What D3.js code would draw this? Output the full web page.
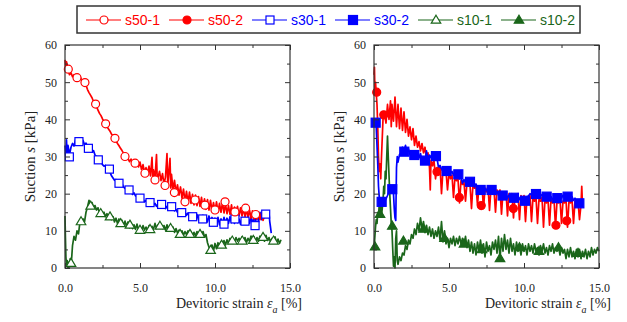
<!DOCTYPE html>
<html><head><meta charset="utf-8">
<script src="https://cdn.jsdelivr.net/npm/d3@7"></script>
<style>body{margin:0;background:#fff}svg{display:block}</style>
</head><body>
<svg id="c" width="627" height="322"></svg>
<script>
// ---------- data ----------
const legendNames = ["s50-1","s50-2","s30-1","s30-2","s10-1","s10-2"];
const yTicks = [0,10,20,30,40,50,60];
const yMinor = [5,15,25,35,45,55];
const xTicks = [0,5,10,15];
const xMinor = [2.5,7.5,12.5];

const s50_1_line = [[0,56],[0.05,54],[0.1,55.5],[0.2,53.5],[0.3,52],[0.4,52.5],[0.5,51.5],[0.6,52],[0.7,51],[0.8,51.8],[0.9,51.2],[1.0,51.5],[1.1,50.6],[1.2,50.3],[1.3,49.8],[1.4,49.2],[1.5,48],[1.6,47.2],[1.7,46.5],[1.8,45.8],[1.9,44.8],[2.0,44.2],[2.1,43.4],[2.2,42.5],[2.3,41.6],[2.4,41],[2.5,40.1],[2.6,39.4],[2.7,38.8],[2.8,38],[2.9,37.4],[3.0,36.8],[3.1,36],[3.2,35.6],[3.3,35],[3.4,34.2],[3.5,33.5],[3.6,32.9],[3.7,32.2],[3.8,31.6],[3.9,30.9],[4.0,30.3],[4.1,29.8],[4.2,29.4],[4.3,28.6],[4.4,29.3],[4.5,28.4],[4.6,28.8],[4.7,27.9],[4.8,28.9],[4.9,27.2],[5.0,28.5],[5.1,26.5],[5.2,27.8],[5.3,25.8],[5.4,27],[5.5,25.5],[5.6,27.4],[5.7,24.8],[5.8,29.8],[5.85,24.5],[5.9,26.4],[6.0,24],[6.1,30.5],[6.15,23.6],[6.3,26],[6.4,23.5],[6.5,25.4],[6.6,22.5],[6.7,24.5],[6.8,30.8],[6.85,22.2],[7.0,29.5],[7.05,21.5],[7.1,25.2],[7.2,21],[7.3,23.6],[7.4,20.2],[7.5,22.4],[7.6,19.6],[7.7,21.8],[7.8,18.8],[7.9,21.2],[8.0,18],[8.1,20.6],[8.2,17.6],[8.3,20.4],[8.4,17.4],[8.5,19.8],[8.6,17],[8.7,19.6],[8.8,16.8],[8.9,19.2],[9.0,16.6],[9.1,19],[9.2,16.2],[9.3,18.6],[9.4,15.8],[9.5,18.4],[9.6,15.6],[9.7,18.2],[9.8,15.4],[9.9,17.6],[10.0,15.2],[10.1,17.8],[10.2,15],[10.3,17.4],[10.4,15],[10.5,17.6],[10.6,14.8],[10.7,17.2],[10.8,14.6],[10.9,16.8],[11.0,14.4],[11.1,17],[11.2,14.2],[11.3,16.4],[11.4,14.2],[11.5,16.6],[11.6,14],[11.7,16.2],[11.8,14],[11.9,16],[12.0,13.8],[12.1,15.8],[12.2,13.6],[12.3,15.6],[12.4,13.4],[12.5,15.4],[12.6,13.2],[12.7,15],[12.8,13.2],[12.9,14.6],[13.0,13],[13.1,14.8],[13.2,12.8],[13.3,14]];
const s50_1_marks = [[0.22,53.5],[0.8,51.2],[1.33,49.9],[2.04,44.1],[2.71,38.8],[3.33,34.9],[4.0,30.0],[4.67,28.2],[5.33,25.5],[6.0,23.7],[6.67,22.2],[7.29,20.3],[8.0,17.8],[8.67,18.3],[9.33,16.9],[10.0,15.6],[10.67,17.8],[11.33,15.1],[12.04,16.1],[12.71,14.4]];

const s30_1_line = [[0,33],[0.05,30],[0.1,34.5],[0.15,29.5],[0.2,33],[0.3,30.5],[0.4,32.5],[0.5,33.5],[0.6,32.8],[0.7,34.5],[0.8,34],[0.9,34.8],[1.0,34.2],[1.1,33.8],[1.2,34.3],[1.3,33.2],[1.4,33.6],[1.5,32.4],[1.6,32.9],[1.7,31.8],[1.8,31.2],[1.9,31.6],[2.0,30.4],[2.1,30],[2.2,29.2],[2.3,29.6],[2.4,28.8],[2.5,27.8],[2.6,27.4],[2.7,27.6],[2.8,26.8],[2.9,26.4],[3.0,25.8],[3.1,24.8],[3.2,24.2],[3.3,23.6],[3.4,23.8],[3.5,23.2],[3.6,22.6],[3.7,22.4],[3.8,22.8],[3.9,21.8],[4.0,21.4],[4.1,21.6],[4.2,20.8],[4.3,20.4],[4.4,20.6],[4.5,19.8],[4.6,20.2],[4.7,19.4],[4.8,19.6],[4.9,19],[5.0,18.8],[5.1,18.4],[5.2,18.6],[5.3,17.8],[5.4,18.2],[5.5,17.4],[5.6,17.8],[5.7,17.2],[5.8,17.6],[5.9,16.9],[6.0,17.4],[6.1,16.6],[6.2,17.2],[6.3,16.5],[6.4,17],[6.5,16.2],[6.6,16.8],[6.7,16],[6.8,16.6],[6.9,15.8],[7.0,16.4],[7.1,15.6],[7.2,16],[7.3,15.4],[7.4,15.8],[7.5,15],[7.6,15.6],[7.7,14.8],[7.8,15.2],[7.9,14.6],[8.0,15],[8.1,14.2],[8.2,14.8],[8.3,13.8],[8.4,14.6],[8.5,13.6],[8.6,14.4],[8.7,13.2],[8.8,14.4],[8.9,13],[9.0,14],[9.1,12.8],[9.2,14.2],[9.3,12.6],[9.4,13.8],[9.5,12.4],[9.6,14],[9.7,12.2],[9.8,13.6],[9.9,12],[10.0,13.4],[10.1,11.8],[10.2,13.6],[10.3,11.6],[10.4,13.2],[10.5,11.8],[10.6,13.6],[10.7,12],[10.8,13.4],[10.9,12],[11.0,13.8],[11.1,12.2],[11.2,13.4],[11.3,12],[11.4,13.6],[11.5,12.2],[11.6,13.2],[11.7,11.8],[11.8,13.4],[11.9,12],[12.0,13.2],[12.1,11.8],[12.2,13.6],[12.3,12],[12.4,13.8],[12.5,11.6],[12.6,14],[12.7,12.2],[12.8,14.6],[12.9,12.4],[13.0,15],[13.1,13],[13.2,15.4],[13.3,13.6],[13.4,15],[13.5,13.8],[13.6,14.8],[13.65,12.5],[13.7,11],[13.75,9.4]];
const s30_1_marks = [[0.29,29.9],[0.93,34.0],[1.56,32.2],[2.22,29.1],[2.96,26.6],[3.6,22.8],[4.27,21.0],[5.0,18.8],[5.67,17.6],[6.44,17.1],[7.11,16.5],[7.78,14.9],[8.51,13.8],[9.18,13.2],[9.89,12.3],[10.6,11.8],[11.33,13.2],[12.0,12.6],[12.67,11.4],[13.38,14.5]];

const s10_1_line = [[0,14],[0.03,8],[0.06,3],[0.1,0.5],[0.15,2],[0.2,0],[0.25,1.5],[0.3,0.3],[0.35,2.5],[0.4,1],[0.45,3],[0.5,6],[0.6,8.5],[0.7,7.5],[0.8,10],[0.9,9.2],[1.0,12.5],[1.1,11.8],[1.2,13.2],[1.3,12.4],[1.4,15],[1.5,16.4],[1.6,18.2],[1.7,16.8],[1.8,17.6],[1.9,16.2],[2.0,16.8],[2.1,15.6],[2.2,16.2],[2.3,14.8],[2.4,15.6],[2.5,14.2],[2.6,15],[2.7,13.8],[2.8,14.6],[2.9,13.4],[3.0,14.2],[3.1,13],[3.2,13.8],[3.3,12.4],[3.4,13.4],[3.5,12],[3.6,13.2],[3.7,11.6],[3.8,12.8],[3.9,11.4],[4.0,12.6],[4.1,11.2],[4.2,12.4],[4.3,10.8],[4.4,12],[4.5,10.6],[4.6,11.6],[4.7,10.4],[4.8,11.8],[4.9,10.2],[5.0,11.2],[5.1,10],[5.2,11.4],[5.3,10.2],[5.4,11],[5.5,10],[5.6,11.4],[5.7,10.4],[5.8,11.2],[5.9,10.4],[6.0,12],[6.1,10.6],[6.2,11.6],[6.3,10.8],[6.4,11.8],[6.5,10.6],[6.6,11.4],[6.7,10.2],[6.8,11.6],[6.9,10.4],[7.0,11.2],[7.1,10],[7.2,11],[7.3,9.6],[7.4,10.6],[7.5,9.4],[7.6,10.2],[7.7,9],[7.8,10],[7.9,8.8],[8.0,9.8],[8.1,9],[8.2,10],[8.3,8.8],[8.4,9.8],[8.5,8.6],[8.6,9.6],[8.7,8.6],[8.8,9.8],[8.9,8.8],[9.0,9.6],[9.1,8.6],[9.2,9.8],[9.3,8.4],[9.4,9],[9.5,6.8],[9.6,5.6],[9.7,4.8],[9.8,6.2],[9.9,4.6],[10.0,6.6],[10.1,5.2],[10.2,6.8],[10.3,5.8],[10.4,7],[10.5,6],[10.6,7.4],[10.7,6.2],[10.8,7.6],[10.9,6.6],[11.0,8],[11.1,6.8],[11.2,7.8],[11.3,7],[11.4,8.2],[11.5,7.2],[11.6,8],[11.7,7.2],[11.8,8.4],[11.9,7],[12.0,8.2],[12.1,6.8],[12.2,8],[12.3,7.2],[12.4,8.6],[12.5,7.4],[12.6,8.4],[12.7,7],[12.8,8.2],[12.9,7.2],[13.0,8.6],[13.1,7.6],[13.2,8.4],[13.3,7.2],[13.4,8.8],[13.5,7.4],[13.6,8.2],[13.7,7],[13.8,8],[13.9,7.2],[14.0,8.4],[14.1,6.8],[14.2,7.8],[14.3,6.6],[14.4,7.6]];
const s10_1_marks = [[0.4,1.3],[1.07,12.5],[1.71,16.7],[2.38,14.7],[3.0,13.8],[3.71,12.0],[4.33,11.6],[5.0,10.2],[5.67,10.4],[6.33,11.3],[7.04,10.7],[7.67,9.1],[8.33,9.1],[9.0,9.1],[9.71,4.8],[10.44,6.2],[11.15,7.3],[11.82,7.3],[12.55,7.5],[13.2,8.3],[13.9,7.3]];

const s50_2_line = [[0,52],[0.03,54],[0.06,48],[0.1,50],[0.15,47],[0.2,44],[0.25,38],[0.3,30],[0.35,26],[0.4,28],[0.45,24],[0.5,30],[0.55,35],[0.6,40],[0.7,41.5],[0.8,39],[0.9,44],[1.0,40],[1.1,45],[1.15,38],[1.2,44],[1.3,39.5],[1.4,46],[1.5,38],[1.6,44],[1.7,37.5],[1.8,43],[1.9,37],[2.0,42],[2.1,36.5],[2.2,40],[2.3,35.5],[2.4,38],[2.5,34.5],[2.6,37.5],[2.7,33],[2.8,35.5],[2.9,32.5],[3.0,34],[3.1,31.5],[3.2,33.5],[3.3,31],[3.4,32.5],[3.5,29],[3.6,31],[3.7,27],[3.75,21],[3.8,29],[3.9,27.5],[4.0,29],[4.1,24],[4.2,27],[4.3,26.5],[4.4,27.5],[4.5,20],[4.6,26.5],[4.7,25],[4.8,26],[4.9,21],[5.0,25.5],[5.1,24],[5.2,25],[5.3,19],[5.4,24.5],[5.5,23.5],[5.6,24],[5.7,17.5],[5.8,23.5],[5.9,22.5],[6.0,23],[6.1,18],[6.2,23],[6.3,22],[6.4,22.5],[6.5,16],[6.6,22.5],[6.7,21.5],[6.8,22],[6.9,17],[7.0,22],[7.1,21],[7.2,22],[7.3,16],[7.4,21.5],[7.5,20.5],[7.6,22],[7.7,15.5],[7.8,21.5],[7.9,20.5],[8.0,21],[8.1,15],[8.2,21],[8.3,20],[8.4,21],[8.5,14.5],[8.6,20.5],[8.7,19.5],[8.8,20.5],[8.9,14],[9.0,20],[9.1,19],[9.2,20],[9.3,13.5],[9.4,19.5],[9.5,18.5],[9.6,20],[9.7,13],[9.8,19.5],[9.9,18.5],[10.0,19.5],[10.1,12.5],[10.2,19],[10.3,18.5],[10.4,19.5],[10.5,12.5],[10.6,19],[10.7,18],[10.8,19],[10.9,12],[11.0,18.5],[11.1,18],[11.2,19],[11.3,11],[11.4,18.5],[11.5,17.5],[11.6,18.5],[11.7,11.5],[11.8,18.5],[11.9,17.5],[12.0,18.5],[12.1,11],[12.2,18],[12.3,17.5],[12.4,18.5],[12.5,12],[12.6,18],[12.7,17.5],[12.8,18.5],[12.9,11],[13.0,18],[13.1,17.5],[13.2,18.5],[13.3,12],[13.4,18],[13.5,17.5],[13.6,18],[13.7,13],[13.8,17],[13.85,22],[13.9,17]];
const s50_2_marks = [[0.18,47.3],[0.65,41.2],[4.2,25.9],[5.69,19.0],[7.15,16.8],[9.29,16.0],[12.13,11.5],[12.85,12.7]];

const s30_2_line = [[0,39],[0.05,40],[0.1,39],[0.15,38],[0.2,33],[0.25,28],[0.3,22],[0.35,19],[0.4,18],[0.5,17.5],[0.6,18],[0.7,17.8],[0.8,18.6],[0.9,19.5],[1.0,20.5],[1.1,21.5],[1.2,21.2],[1.3,20],[1.35,16],[1.4,13.5],[1.45,12.8],[1.5,27],[1.55,30],[1.6,28.5],[1.7,30.5],[1.8,31],[1.9,32.5],[2.0,31.5],[2.1,33],[2.2,31],[2.3,32],[2.4,30.5],[2.5,31.5],[2.6,30],[2.7,30.8],[2.8,30.2],[2.9,31.4],[3.0,29.6],[3.1,30.8],[3.2,28.8],[3.3,29.6],[3.4,28.6],[3.5,31.5],[3.6,29],[3.7,30.4],[3.8,29.6],[3.9,31.2],[4.0,30],[4.1,30.8],[4.2,29.6],[4.3,27],[4.4,27.6],[4.5,26.4],[4.6,27.2],[4.7,26],[4.8,26.8],[4.9,25.8],[5.0,26.4],[5.1,25.4],[5.2,26],[5.3,25],[5.4,25.8],[5.5,25.2],[5.6,25.8],[5.7,24],[5.8,24.4],[5.9,22.8],[6.0,23.8],[6.1,23],[6.2,23.6],[6.3,22.6],[6.4,23.4],[6.5,22.6],[6.6,23],[6.7,21.8],[6.8,22.6],[6.9,21.4],[7.0,22],[7.1,21],[7.2,21.8],[7.3,20.6],[7.4,21.4],[7.5,20.8],[7.6,21.6],[7.7,20.4],[7.8,21.2],[7.9,20.4],[8.0,21],[8.1,19.8],[8.2,20.6],[8.3,19.6],[8.4,20.4],[8.5,19.4],[8.6,20],[8.7,19.2],[8.8,19.8],[8.9,18.8],[9.0,19.6],[9.1,18.6],[9.2,19.4],[9.3,18.8],[9.4,19.6],[9.5,18.6],[9.6,19.4],[9.7,18.4],[9.8,19.2],[9.9,18.2],[10.0,18.8],[10.1,18],[10.2,19],[10.3,19.4],[10.4,20],[10.5,19.6],[10.6,20.2],[10.7,19.8],[10.8,20.2],[10.9,19.6],[11.0,20],[11.1,19.2],[11.2,19.8],[11.3,19],[11.4,19.6],[11.5,19],[11.6,19.4],[11.7,18.6],[11.8,19.2],[11.9,18.4],[12.0,19],[12.1,18.6],[12.2,19.2],[12.3,18.8],[12.4,19.4],[12.5,18.8],[12.6,19.6],[12.7,18.8],[12.8,19.4],[12.9,19],[13.0,19.6],[13.1,18.6],[13.2,19.2],[13.3,18.2],[13.4,18.8],[13.5,17.8],[13.6,18.2],[13.7,17.4],[13.8,17.8],[13.9,17.2]];
const s30_2_marks = [[0.11,39.1],[0.51,17.8],[1.22,21.2],[2.02,31.3],[2.69,30.4],[3.4,28.9],[4.13,30.1],[4.84,26.1],[5.62,25.2],[6.4,23.2],[7.11,21.0],[7.84,21.0],[8.58,19.5],[9.33,18.9],[10.07,18.1],[10.8,19.9],[11.51,19.2],[12.22,18.8],[12.91,19.2],[13.69,17.4]];

const s10_2_line = [[0,5],[0.05,8],[0.1,11],[0.15,13],[0.2,12],[0.25,15],[0.3,14],[0.35,17],[0.4,15],[0.45,17],[0.5,14],[0.55,16],[0.6,18],[0.65,22],[0.7,20],[0.75,26],[0.8,24],[0.85,30],[0.9,35.5],[0.95,30],[1.0,25],[1.05,20],[1.1,16],[1.15,12],[1.2,10],[1.25,5],[1.3,0.5],[1.35,3],[1.4,0],[1.45,8],[1.5,10],[1.55,2],[1.6,1],[1.7,3],[1.8,2],[1.9,4],[2.0,3.5],[2.1,6],[2.2,5],[2.3,7.5],[2.4,6.5],[2.5,9],[2.6,8],[2.7,10.5],[2.8,9],[2.9,12],[3.0,10],[3.1,13.5],[3.2,10.5],[3.3,12.5],[3.4,9.5],[3.5,11.5],[3.6,9],[3.7,11],[3.8,8.5],[3.9,10.5],[4.0,8],[4.1,10],[4.2,8.5],[4.3,11],[4.4,7.5],[4.5,12.5],[4.6,7],[4.7,10],[4.8,6.5],[4.9,8],[5.0,5.5],[5.1,8],[5.2,6.5],[5.3,8.5],[5.4,6],[5.5,8],[5.6,6.5],[5.7,8.5],[5.8,6.5],[5.9,8],[6.0,6],[6.1,8.5],[6.2,5.5],[6.3,7.5],[6.4,4.5],[6.5,7],[6.6,4],[6.7,6.5],[6.8,3.5],[6.9,7],[7.0,4.5],[7.1,7.5],[7.2,4],[7.3,6.5],[7.4,3],[7.5,7],[7.6,4.5],[7.7,6],[7.8,3.5],[7.9,7],[8.0,5],[8.1,7.5],[8.2,4],[8.3,8.5],[8.4,2.5],[8.5,8],[8.6,4.5],[8.7,9],[8.8,5],[8.9,7.5],[9.0,4],[9.1,8],[9.2,4.5],[9.3,6.5],[9.4,3.5],[9.5,7],[9.6,4.5],[9.7,6],[9.8,3.5],[9.9,6.5],[10.0,4.5],[10.1,6],[10.2,3.5],[10.3,6.5],[10.4,4.5],[10.5,6],[10.6,4],[10.7,6.5],[10.8,4.5],[10.9,5.5],[11.0,3.5],[11.1,6],[11.2,4.5],[11.3,6.5],[11.4,4],[11.5,5.5],[11.6,3.5],[11.7,6],[11.8,4.5],[11.9,6.5],[12.0,4],[12.1,5.5],[12.2,4.5],[12.3,6],[12.4,3.5],[12.5,5.5],[12.6,4],[12.7,5],[12.8,2.5],[12.9,5],[13.0,3],[13.1,5.5],[13.2,3],[13.3,4.5],[13.4,2.5],[13.5,5],[13.6,3],[13.7,5],[13.8,2.5],[13.9,4.5],[14.0,3],[14.1,5],[14.2,2.5],[14.3,4.5],[14.4,3],[14.5,5.5],[14.6,3.5],[14.7,5],[14.8,4],[14.9,5.5],[15.0,4.5]];
const s10_2_marks = [[0.07,5.7],[0.4,14.5],[1.22,11.3],[1.96,7.3],[3.3,10.5],[4.7,8],[6.0,6.5],[7.2,5],[8.4,2.6],[9.7,5.5],[11.0,4.5],[12.3,5.5],[13.6,4]];

// ---------- styling ----------
const RED = "#ff0000", BLUE = "#0000ff", GREEN = "#1a661a";
const styles = {
  "s50-1": {color: RED, shape: "circle", filled: false},
  "s50-2": {color: RED, shape: "circle", filled: true},
  "s30-1": {color: BLUE, shape: "square", filled: false},
  "s30-2": {color: BLUE, shape: "square", filled: true},
  "s10-1": {color: GREEN, shape: "triangle", filled: false},
  "s10-2": {color: GREEN, shape: "triangle", filled: true}
};
const svg = d3.select("#c");
const serif = "'Liberation Serif','Times New Roman',serif";

function drawMarker(sel, st, x, y) {
  const fill = st.filled ? st.color : "#fff";
  if (st.shape === "circle") {
    sel.append("circle").attr("cx", x).attr("cy", y).attr("r", 4)
      .attr("fill", fill).attr("stroke", st.color).attr("stroke-width", 1.2);
  } else if (st.shape === "square") {
    const s = st.filled ? 9 : 8;
    sel.append("rect").attr("x", x - s/2).attr("y", y - s/2).attr("width", s).attr("height", s)
      .attr("fill", fill).attr("stroke", st.color).attr("stroke-width", 1.2);
  } else {
    const h = 8, w = 9.5;
    sel.append("path").attr("d", `M${x},${y - h*0.6}L${x + w/2},${y + h*0.4}L${x - w/2},${y + h*0.4}Z`)
      .attr("fill", fill).attr("stroke", st.color).attr("stroke-width", 1.2);
  }
}

function panel(left, series) {
  const top = 45, bottom = 268, right = left + 225;
  const x = d3.scaleLinear().domain([0, 15]).range([left, right]);
  const y = d3.scaleLinear().domain([0, 60]).range([bottom, top]);
  const g = svg.append("g");
  const line = d3.line().x(d => x(d[0])).y(d => y(d[1]));
  series.forEach(s => {
    g.append("path").datum(s.line).attr("d", line).attr("fill", "none")
      .attr("stroke", styles[s.name].color).attr("stroke-width", 1.7).attr("stroke-linejoin", "round");
  });
  series.forEach(s => {
    const mg = g.append("g");
    s.marks.forEach(d => drawMarker(mg, styles[s.name], x(d[0]), y(d[1])));
  });
  // axes
  const axCol = "#333";
  function styleAx(a) {
    a.select(".domain").remove();
    a.selectAll("line").attr("stroke", axCol).attr("stroke-width", 1);
    a.selectAll("text").attr("font-family", serif).attr("font-size", 12).attr("fill", "#222");
  }
  const gx = svg.append("g").attr("transform", `translate(0,${bottom})`)
    .call(d3.axisBottom(x).tickValues(xTicks).tickSizeInner(-5).tickSizeOuter(0).tickPadding(15).tickFormat(d3.format(".1f")));
  styleAx(gx);
  const gxm = svg.append("g").attr("transform", `translate(0,${bottom})`)
    .call(d3.axisBottom(x).tickValues(xMinor).tickSize(-3).tickFormat(""));
  styleAx(gxm);
  const gxt = svg.append("g").attr("transform", `translate(0,${top})`)
    .call(d3.axisTop(x).tickValues(xTicks).tickSize(-5).tickFormat(""));
  styleAx(gxt);
  const gxtm = svg.append("g").attr("transform", `translate(0,${top})`)
    .call(d3.axisTop(x).tickValues(xMinor).tickSize(-3).tickFormat(""));
  styleAx(gxtm);
  const gy = svg.append("g").attr("transform", `translate(${left},0)`)
    .call(d3.axisLeft(y).tickValues(yTicks).tickSizeInner(-5).tickSizeOuter(0).tickPadding(8));
  styleAx(gy);
  const gym = svg.append("g").attr("transform", `translate(${left},0)`)
    .call(d3.axisLeft(y).tickValues(yMinor).tickSize(-3).tickFormat(""));
  styleAx(gym);
  const gyr = svg.append("g").attr("transform", `translate(${right},0)`)
    .call(d3.axisRight(y).tickValues(yTicks).tickSize(-5).tickFormat(""));
  styleAx(gyr);
  const gyrm = svg.append("g").attr("transform", `translate(${right},0)`)
    .call(d3.axisRight(y).tickValues(yMinor).tickSize(-3).tickFormat(""));
  styleAx(gyrm);
  svg.append("rect").attr("x", left).attr("y", top).attr("width", right - left).attr("height", bottom - top)
    .attr("fill", "none").attr("stroke", axCol).attr("stroke-width", 1.2);
  // y label
  const yl = svg.append("text").attr("transform", `translate(${left - 30},${(top + bottom)/2}) rotate(-90)`)
    .attr("text-anchor", "middle").attr("font-family", serif).attr("font-size", 15).attr("fill", "#222");
  yl.append("tspan").text("Suction ");
  yl.append("tspan").attr("font-style", "italic").text("s");
  yl.append("tspan").text(" [kPa]");
  // x label
  const xl = svg.append("text").attr("x", right + 12).attr("y", 308)
    .attr("text-anchor", "end").attr("font-family", serif).attr("font-size", 14).attr("fill", "#222");
  xl.append("tspan").text("Devitoric strain ");
  xl.append("tspan").attr("font-style", "italic").text("ε");
  xl.append("tspan").attr("font-style", "italic").attr("font-size", 10).attr("dy", 5).text("a");
  xl.append("tspan").attr("dy", -5).text(" [%]");
}

panel(65, [
  {name: "s10-1", line: s10_1_line, marks: s10_1_marks},
  {name: "s30-1", line: s30_1_line, marks: s30_1_marks},
  {name: "s50-1", line: s50_1_line, marks: s50_1_marks}
]);
panel(374, [
  {name: "s10-2", line: s10_2_line, marks: s10_2_marks},
  {name: "s50-2", line: s50_2_line, marks: s50_2_marks},
  {name: "s30-2", line: s30_2_line, marks: s30_2_marks}
]);

// legend
svg.append("rect").attr("x", 77).attr("y", 6).attr("width", 503).attr("height", 27)
  .attr("fill", "#fff").attr("stroke", "#333").attr("stroke-width", 1.5);
const lx = d3.scaleLinear().domain([0, legendNames.length]).range([86, 584]);
legendNames.forEach((n, i) => {
  const st = styles[n];
  const x0 = lx(i);
  const lg = svg.append("g");
  lg.append("line").attr("x1", x0).attr("x2", x0 + 35).attr("y1", 20).attr("y2", 20)
    .attr("stroke", st.color).attr("stroke-width", 1.2);
  drawMarker(lg, st, x0 + 18, 20);
  lg.append("text").attr("x", x0 + 39).attr("y", 25).attr("font-family", "'Liberation Sans',Arial,sans-serif")
    .attr("font-size", 14).attr("fill", st.color).text(n);
});
</script>
</body></html>
